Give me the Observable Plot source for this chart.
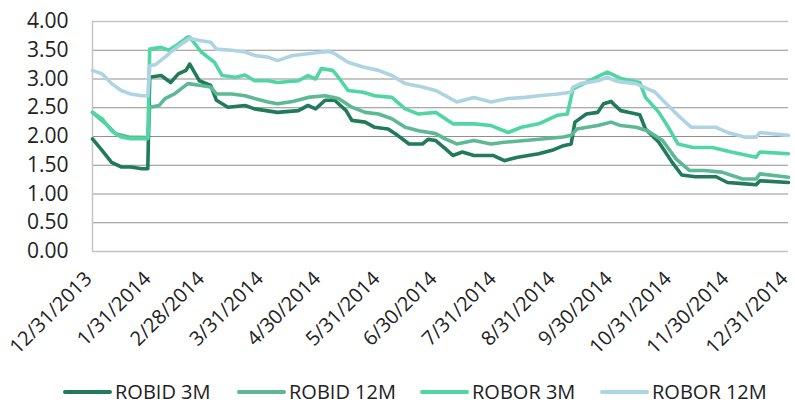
<!DOCTYPE html>
<html>
<head>
<meta charset="utf-8">
<script src="https://cdn.jsdelivr.net/npm/d3@7"></script>
<script src="https://cdn.jsdelivr.net/npm/@observablehq/plot@0.6"></script>
<style>
  html, body { margin: 0; padding: 0; background: #fff; }
  body { width: 795px; height: 407px; overflow: hidden; font-family: "Open Sans", sans-serif; }
  #legend { position: relative; height: 42px; }
  .item { position: absolute; top: 19px; display: flex; align-items: center; font-size: 20px; line-height: 16px; color: #222; }
  .sw { width: 49px; height: 4px; border-radius: 2px; margin-right: 3px; }
</style>
</head>
<body>
<div id="chart"></div>
<div id="legend"></div>
<script>
// ---- data ----
const seriesNames = ["ROBID 3M", "ROBID 12M", "ROBOR 3M", "ROBOR 12M"];
const seriesColors = ["#217a5a", "#5cb994", "#50d6a2", "#aed4e4"];

const robid3mDates = ["2013-12-31","2014-01-05","2014-01-10","2014-01-15","2014-01-20","2014-01-26","2014-01-29","2014-01-30","2014-02-05","2014-02-10","2014-02-14","2014-02-18","2014-02-20","2014-02-25","2014-03-03","2014-03-06","2014-03-12","2014-03-21","2014-03-26","2014-04-01","2014-04-07","2014-04-18","2014-04-23","2014-04-27","2014-05-02","2014-05-07","2014-05-13","2014-05-16","2014-05-23","2014-05-28","2014-06-04","2014-06-09","2014-06-15","2014-06-22","2014-06-25","2014-06-29","2014-07-04","2014-07-08","2014-07-13","2014-07-19","2014-07-29","2014-08-04","2014-08-11","2014-08-22","2014-08-29","2014-09-04","2014-09-08","2014-09-10","2014-09-16","2014-09-22","2014-09-25","2014-09-29","2014-10-01","2014-10-04","2014-10-08","2014-10-14","2014-10-17","2014-10-24","2014-10-31","2014-11-05","2014-11-12","2014-11-23","2014-11-29","2014-12-07","2014-12-14","2014-12-16","2014-12-31"];
const robid3mValues = [1.96,1.76,1.55,1.47,1.47,1.44,1.44,3.03,3.06,2.94,3.09,3.15,3.26,2.97,2.89,2.63,2.51,2.54,2.48,2.45,2.42,2.45,2.54,2.48,2.63,2.63,2.45,2.28,2.25,2.16,2.13,2.02,1.87,1.87,1.95,1.93,1.79,1.67,1.73,1.67,1.67,1.58,1.64,1.70,1.76,1.84,1.87,2.25,2.39,2.42,2.57,2.61,2.54,2.45,2.42,2.38,2.13,1.90,1.55,1.33,1.30,1.30,1.20,1.18,1.16,1.23,1.20];

const robid12mDates = ["2013-12-31","2014-01-07","2014-01-12","2014-01-19","2014-01-29","2014-01-30","2014-02-04","2014-02-07","2014-02-12","2014-02-19","2014-02-25","2014-03-03","2014-03-06","2014-03-14","2014-03-21","2014-03-26","2014-04-02","2014-04-07","2014-04-15","2014-04-23","2014-05-02","2014-05-09","2014-05-16","2014-05-23","2014-05-30","2014-06-06","2014-06-13","2014-06-20","2014-06-29","2014-07-04","2014-07-10","2014-07-19","2014-07-28","2014-08-04","2014-08-15","2014-08-25","2014-09-04","2014-09-08","2014-09-11","2014-09-22","2014-09-29","2014-10-04","2014-10-12","2014-10-18","2014-10-26","2014-11-02","2014-11-09","2014-11-17","2014-11-26","2014-12-07","2014-12-14","2014-12-16","2014-12-31"];
const robid12mValues = [2.42,2.22,2.05,1.99,1.98,2.51,2.54,2.66,2.74,2.92,2.89,2.86,2.74,2.74,2.71,2.66,2.60,2.57,2.61,2.68,2.71,2.66,2.51,2.42,2.39,2.31,2.16,2.10,2.05,1.96,1.87,1.93,1.87,1.90,1.93,1.96,1.99,2.02,2.13,2.19,2.25,2.19,2.16,2.10,1.93,1.61,1.41,1.41,1.38,1.26,1.26,1.35,1.29];

const robor3mDates = ["2013-12-31","2014-01-05","2014-01-10","2014-01-15","2014-01-20","2014-01-29","2014-01-30","2014-02-05","2014-02-09","2014-02-14","2014-02-19","2014-02-20","2014-02-26","2014-03-05","2014-03-09","2014-03-16","2014-03-21","2014-03-26","2014-04-02","2014-04-07","2014-04-18","2014-04-23","2014-04-27","2014-04-30","2014-05-06","2014-05-09","2014-05-14","2014-05-22","2014-05-28","2014-06-06","2014-06-13","2014-06-20","2014-06-29","2014-07-04","2014-07-08","2014-07-19","2014-07-28","2014-08-06","2014-08-13","2014-08-22","2014-09-01","2014-09-06","2014-09-09","2014-09-16","2014-09-23","2014-09-27","2014-10-04","2014-10-14","2014-10-17","2014-10-24","2014-10-29","2014-11-03","2014-11-11","2014-11-21","2014-12-01","2014-12-14","2014-12-16","2014-12-31"];
const robor3mValues = [2.42,2.31,2.10,1.99,1.96,1.96,3.52,3.55,3.50,3.61,3.73,3.73,3.47,3.29,3.06,3.03,3.07,2.97,2.97,2.94,2.97,3.06,3.00,3.18,3.15,3.03,2.80,2.77,2.71,2.68,2.48,2.39,2.42,2.31,2.22,2.22,2.19,2.07,2.16,2.22,2.37,2.39,2.83,2.94,3.06,3.12,3.01,2.94,2.68,2.42,2.16,1.87,1.81,1.81,1.73,1.64,1.73,1.70];

const robor12mDates = ["2013-12-31","2014-01-05","2014-01-10","2014-01-15","2014-01-20","2014-01-26","2014-01-29","2014-01-30","2014-02-02","2014-02-07","2014-02-12","2014-02-17","2014-02-20","2014-02-25","2014-03-03","2014-03-06","2014-03-14","2014-03-21","2014-03-26","2014-04-02","2014-04-07","2014-04-15","2014-04-23","2014-05-04","2014-05-07","2014-05-14","2014-05-22","2014-05-30","2014-06-06","2014-06-13","2014-06-22","2014-06-29","2014-07-04","2014-07-10","2014-07-19","2014-07-28","2014-08-06","2014-08-15","2014-08-22","2014-09-01","2014-09-08","2014-09-09","2014-09-13","2014-09-22","2014-09-27","2014-10-01","2014-10-04","2014-10-12","2014-10-22","2014-10-27","2014-11-03","2014-11-10","2014-11-23","2014-11-29","2014-12-08","2014-12-14","2014-12-16","2014-12-31"];
const robor12mValues = [3.15,3.09,2.92,2.80,2.74,2.71,2.71,3.23,3.25,3.38,3.52,3.64,3.71,3.67,3.64,3.52,3.50,3.47,3.41,3.38,3.32,3.41,3.44,3.48,3.44,3.29,3.21,3.15,3.06,2.92,2.86,2.80,2.71,2.60,2.68,2.60,2.66,2.68,2.71,2.74,2.77,2.86,2.92,2.97,3.03,2.97,2.95,2.92,2.77,2.60,2.37,2.16,2.16,2.07,1.99,1.99,2.07,2.02];

const xTickDates = ["2013-12-31","2014-01-31","2014-02-28","2014-03-31","2014-04-30","2014-05-31","2014-06-30","2014-07-31","2014-08-31","2014-09-30","2014-10-31","2014-11-30","2014-12-31"];
const xTickLabels = ["12/31/2013","1/31/2014","2/28/2014","3/31/2014","4/30/2014","5/31/2014","6/30/2014","7/31/2014","8/31/2014","9/30/2014","10/31/2014","11/30/2014","12/31/2014"];
const yTicks = [0, 0.5, 1, 1.5, 2, 2.5, 3, 3.5, 4];

// ---- build table ----
const parse = d3.utcParse("%Y-%m-%d");
const allDates = [robid3mDates, robid12mDates, robor3mDates, robor12mDates];
const allValues = [robid3mValues, robid12mValues, robor3mValues, robor12mValues];
const rows = [];
seriesNames.forEach((name, i) => {
  allDates[i].forEach((d, j) => rows.push({series: name, date: parse(d), value: allValues[i][j]}));
});
const tickDates = xTickDates.map(parse);
const labelOf = new Map(tickDates.map((d, i) => [+d, xTickLabels[i]]));

const chart = Plot.plot({
  width: 795,
  height: 365,
  marginTop: 21,
  marginBottom: 114,
  marginLeft: 92,
  marginRight: 7,
  style: {fontFamily: "Open Sans, sans-serif", fontSize: "20px", color: "#222", background: "#fff"},
  x: {type: "utc", domain: [tickDates[0], tickDates[tickDates.length - 1]]},
  y: {domain: [0, 4]},
  color: {domain: seriesNames, range: seriesColors},
  marks: [
    Plot.ruleY(yTicks.filter(v => v > 0 && v < 4), {stroke: "#8f8f8f", strokeWidth: 1.2}),
    Plot.ruleY([0, 4], {stroke: "#c4c4c4", strokeWidth: 1.5}),
    Plot.ruleX([tickDates[0]], {stroke: "#c4c4c4", strokeWidth: 1.5}),
    Plot.line(rows, {x: "date", y: "value", z: "series", stroke: "series", strokeWidth: 3.6, curve: "linear"}),
    Plot.axisY(yTicks, {tickSize: 0, tickPadding: 24, tickFormat: d3.format(".2f"), label: null, fontSize: 21}),
    Plot.axisX(tickDates, {tickSize: 0, tickPadding: 24, dx: -4, tickRotate: -45, tickFormat: d => labelOf.get(+d), label: null, fontSize: 20})
  ]
});
document.getElementById("chart").appendChild(chart);

const legend = document.getElementById("legend");
const lefts = [63, 237, 420, 600];
seriesNames.forEach((name, i) => {
  const it = document.createElement("div");
  it.className = "item";
  it.style.left = lefts[i] + "px";
  const sw = document.createElement("span");
  sw.className = "sw";
  sw.style.background = seriesColors[i];
  const tx = document.createElement("span");
  tx.textContent = name;
  it.appendChild(sw);
  it.appendChild(tx);
  legend.appendChild(it);
});
</script>
</body>
</html>
